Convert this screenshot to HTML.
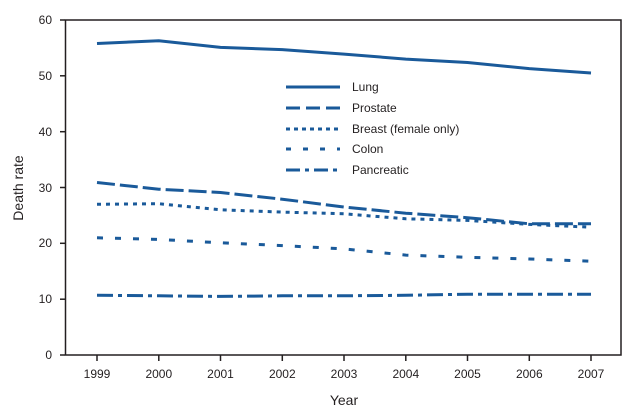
<!DOCTYPE html>
<html><head><style>body{margin:0;background:#fff}svg{display:block}</style></head><body>
<svg width="641" height="418" xmlns="http://www.w3.org/2000/svg" font-family="Liberation Sans, sans-serif">
<rect x="65.5" y="20" width="555.5" height="335" fill="none" stroke="#231f20" stroke-width="1.5"/>
<g stroke="#231f20" stroke-width="1.5">
<line x1="60" y1="20" x2="65" y2="20"/><line x1="60" y1="75.8" x2="65" y2="75.8"/><line x1="60" y1="131.7" x2="65" y2="131.7"/><line x1="60" y1="187.5" x2="65" y2="187.5"/><line x1="60" y1="243.3" x2="65" y2="243.3"/><line x1="60" y1="299.2" x2="65" y2="299.2"/><line x1="60" y1="355" x2="65" y2="355"/>
<line x1="97" y1="355" x2="97" y2="361"/><line x1="158.8" y1="355" x2="158.8" y2="361"/><line x1="220.5" y1="355" x2="220.5" y2="361"/><line x1="282.3" y1="355" x2="282.3" y2="361"/><line x1="344" y1="355" x2="344" y2="361"/><line x1="405.8" y1="355" x2="405.8" y2="361"/><line x1="467.5" y1="355" x2="467.5" y2="361"/><line x1="529.3" y1="355" x2="529.3" y2="361"/><line x1="591" y1="355" x2="591" y2="361"/>
</g>
<g font-size="12" fill="#231f20" text-anchor="end">
<text x="52" y="24">60</text><text x="52" y="80">50</text><text x="52" y="136">40</text><text x="52" y="192">30</text><text x="52" y="247">20</text><text x="52" y="303">10</text><text x="52" y="359">0</text>
</g>
<g font-size="12" fill="#231f20" text-anchor="middle">
<text x="97" y="378">1999</text><text x="158.8" y="378">2000</text><text x="220.5" y="378">2001</text><text x="282.3" y="378">2002</text><text x="344" y="378">2003</text><text x="405.8" y="378">2004</text><text x="467.5" y="378">2005</text><text x="529.3" y="378">2006</text><text x="591" y="378">2007</text>
<text x="344" y="405" font-size="14">Year</text>
<text transform="translate(23,188) rotate(-90)" font-size="14">Death rate</text>
</g>
<g fill="none" stroke="#1a5a9a" stroke-width="3">
<polyline points="97,43.5 158.8,40.7 220.5,47.4 282.3,49.6 344,54.1 405.8,59.1 467.5,62.5 529.3,68.6 591,73.0"/>
<polyline stroke-dasharray="18,5" points="97,182.5 158.8,189.2 220.5,192.5 282.3,199.2 344,207.0 405.8,213.2 467.5,217.7 529.3,223.8 591,223.8"/>
<polyline stroke-dasharray="4,5" points="97,204.3 158.8,203.7 220.5,209.8 282.3,212.1 344,213.8 405.8,218.8 467.5,220.4 529.3,224.4 591,227.2"/>
<polyline stroke-dasharray="6,12" points="97,237.8 158.8,239.4 220.5,242.8 282.3,245.6 344,248.9 405.8,255.1 467.5,257.3 529.3,259.0 591,261.2"/>
<polyline stroke-dasharray="16,5,4,5" points="97,295.3 158.8,295.8 220.5,296.4 282.3,295.8 344,295.8 405.8,295.3 467.5,294.2 529.3,294.2 591,294.2"/>
<line x1="286" y1="87" x2="340" y2="87"/>
<line x1="286" y1="108" x2="340" y2="108" stroke-dasharray="14,6"/>
<line x1="286" y1="129" x2="340" y2="129" stroke-dasharray="4,4"/>
<line x1="286" y1="149" x2="340" y2="149" stroke-dasharray="5,12"/>
<line x1="286" y1="170" x2="340" y2="170" stroke-dasharray="14,5,4,5"/>
</g>
<g font-size="12" fill="#231f20">
<text x="352" y="91">Lung</text><text x="352" y="112">Prostate</text><text x="352" y="133">Breast (female only)</text><text x="352" y="153">Colon</text><text x="352" y="174">Pancreatic</text>
</g>
</svg>
</body></html>
